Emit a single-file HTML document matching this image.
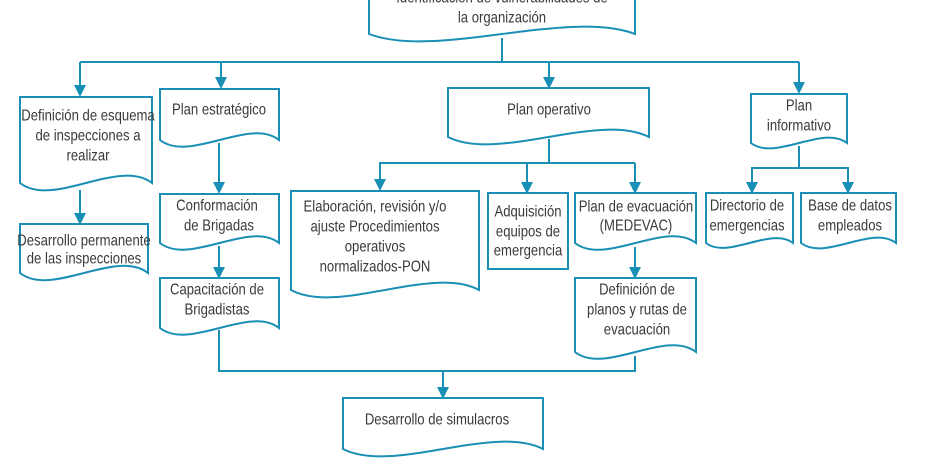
<!DOCTYPE html>
<html><head><meta charset="utf-8"><style>
html,body{margin:0;padding:0;background:#fff;width:928px;height:470px;overflow:hidden}
svg text{font-family:"Liberation Sans",sans-serif;font-size:16px;fill:#3a3a3a;text-anchor:middle;dominant-baseline:central}
</style></head><body>
<svg width="928" height="470" viewBox="0 0 928 470" xmlns="http://www.w3.org/2000/svg">
<g id="shapes" fill="#fff" stroke="#1a8fb5" stroke-width="2"></g>
<g stroke="#1a8fb5" stroke-width="2" fill="none">
<path d="M502 38V62M80 62H799M80 62V86M221 62V78M549 62V78M799 62V83"/>
<path d="M80 190V214"/>
<path d="M219 143V183M219 246V268"/>
<path d="M219 330V371H635V356M443 371V388"/>
<path d="M549 139V163H380V180M380 163H635M527 163V183M635 163V183"/>
<path d="M635 247V268"/>
<path d="M799 146V168H752V183M752 168H848V183"/>
</g>
<g fill="#1a8fb5">
<path d="M74 85h12l-6 12z"/>
<path d="M215 77h12l-6 12z"/>
<path d="M543 77h12l-6 12z"/>
<path d="M793 82h12l-6 12z"/>
<path d="M74 213h12l-6 12z"/>
<path d="M213 182h12l-6 12z"/>
<path d="M213 267h12l-6 12z"/>
<path d="M437 387h12l-6 12z"/>
<path d="M374 179h12l-6 12z"/>
<path d="M521 182h12l-6 12z"/>
<path d="M629 182h12l-6 12z"/>
<path d="M629 267h12l-6 12z"/>
<path d="M746 182h12l-6 12z"/>
<path d="M842 182h12l-6 12z"/>
</g>
<rect x="488" y="193" width="80" height="76" fill="#fff" stroke="#1a8fb5" stroke-width="2"/>
<g id="txt">
<text x="502" y="-2">Identificación de vulnerabilidades de</text>
<text x="502" y="18">la organización</text>
<text x="88" y="116">Definición de esquema</text>
<text x="88" y="136">de inspecciones a</text>
<text x="88" y="156">realizar</text>
<text x="84" y="241">Desarrollo permanente</text>
<text x="84" y="259">de las inspecciones</text>
<text x="219" y="110">Plan estratégico</text>
<text x="217" y="206">Conformación</text>
<text x="219" y="226">de Brigadas</text>
<text x="217" y="290">Capacitación de</text>
<text x="217" y="310">Brigadistas</text>
<text x="549" y="110">Plan operativo</text>
<text x="375" y="207">Elaboración, revisión y/o</text>
<text x="375" y="227">ajuste Procedimientos</text>
<text x="375" y="247">operativos</text>
<text x="375" y="267">normalizados-PON</text>
<text x="528" y="212">Adquisición</text>
<text x="528" y="232">equipos de</text>
<text x="528" y="251">emergencia</text>
<text x="636" y="207">Plan de evacuación</text>
<text x="636" y="226">(MEDEVAC)</text>
<text x="637" y="290">Definición de</text>
<text x="637" y="310">planos y rutas de</text>
<text x="637" y="330">evacuación</text>
<text x="799" y="106">Plan</text>
<text x="799" y="126">informativo</text>
<text x="747" y="206">Directorio de</text>
<text x="747" y="226">emergencias</text>
<text x="850" y="206">Base de datos</text>
<text x="850" y="226">empleados</text>
<text x="437" y="420">Desarrollo de simulacros</text>
</g>
</svg>
<script>
var boxes=[
[369,-20,635,34],
[20,97,152,183],
[20,224,148,273],
[160,89,279,140],
[160,194,279,243],
[160,278,279,328],
[448,88,649,137],
[291,191,479,290],
[575,193,696,243],
[575,278,696,352],
[751,94,847,143],
[706,193,793,243],
[801,193,896,243],
[343,398,543,449]
];
var g=document.getElementById('shapes'),s='';
boxes.forEach(function(b){
 var x1=b[0],y1=b[1],x2=b[2],yb=b[3],w=x2-x1,a=Math.min(17,w*0.13);
 s+='<path d="M'+x1+' '+yb+'V'+y1+'H'+x2+'V'+yb+'C'+(x1+0.75*w)+' '+(yb-a*1.5)+' '+(x1+0.25*w)+' '+(yb+a*1.5)+' '+x1+' '+yb+'Z"/>';
});
g.innerHTML=s;
var ts=document.querySelectorAll('#txt text');
for(var i=0;i<ts.length;i++){var x=ts[i].getAttribute('x');ts[i].setAttribute('transform','translate('+x+',0) scale(0.82,1) translate('+(-x)+',0)');}
</script>
</body></html>
